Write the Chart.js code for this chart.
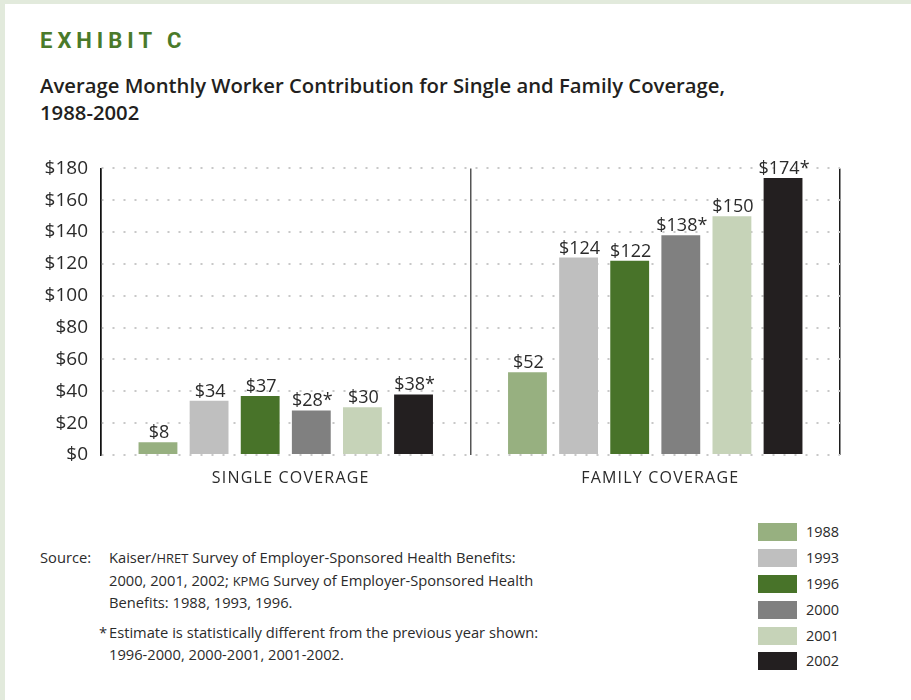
<!DOCTYPE html>
<html>
<head>
<meta charset="utf-8">
<title>Average Monthly Worker Contribution for Single and Family Coverage, 1988-2002</title>
<script src="https://cdn.jsdelivr.net/npm/chart.js@4.4.0/dist/chart.umd.min.js"></script>
<style>
  html, body { margin: 0; padding: 0; }
  body {
    width: 911px; height: 700px; position: relative; overflow: hidden;
    background: #e2eadc; color: #2b2b2b;
    font-family: "Open Sans", Roboto, sans-serif;
  }
  #panel { position: absolute; left: 5px; top: 4px; right: 0; bottom: 0; background: #fff; }
  #exhibit {
    position: absolute; left: 40px; top: 28px; margin: 0;
    font-family: Roboto, sans-serif;
    font-size: 22px; font-weight: 700; letter-spacing: 5px; line-height: 26px;
    color: #4a7a2a;
  }
  #title {
    position: absolute; left: 40px; top: 72px; margin: 0;
    font-size: 20.3px; font-weight: 600; line-height: 27px; color: #231f20;
    white-space: nowrap;
  }
  #chartBox { position: absolute; left: 1px; top: 144px; width: 870px; height: 351px; }
  #source, #note {
    position: absolute; font-size: 14.7px; line-height: 21.5px; color: #2b2b2b;
  }
  #source { left: 40px; top: 547px; }
  #source .lbl { position: absolute; left: 0; top: 0; }
  #source .txt { position: absolute; left: 69px; top: 0; white-space: nowrap; }
  #note { left: 99px; top: 622px; white-space: nowrap; }
  #note .star { position: absolute; left: 0; top: 0; }
  #note .txt { position: absolute; left: 10px; top: 0; }
  .sc { font-size: 0.88em; }
  #legend { position: absolute; left: 758px; top: 522px; }
  .item { position: relative; height: 25.9px; }
  .sw { position: absolute; left: 0; top: 1px; width: 39px; height: 18px; }
  .yr { position: absolute; left: 48px; top: 0; font-size: 14.5px; line-height: 20px; color: #2b2b2b; }
</style>
</head>
<body>
<div id="panel"></div>
<h1 id="exhibit">EXHIBIT C</h1>
<h2 id="title">Average Monthly Worker Contribution for Single and Family Coverage,<br>1988-2002</h2>
<div id="chartBox"><canvas id="chart" width="870" height="351"></canvas></div>
<div id="source">
  <span class="lbl">Source:</span>
  <span class="txt">Kaiser/<span class="sc">HRET</span> Survey of Employer-Sponsored Health Benefits:<br>2000, 2001, 2002; <span class="sc">KPMG</span> Survey of Employer-Sponsored Health<br>Benefits: 1988, 1993, 1996.</span>
</div>
<div id="note">
  <span class="star">*</span>
  <span class="txt">Estimate is statistically different from the previous year shown:<br>1996-2000, 2000-2001, 2001-2002.</span>
</div>
<div id="legend"></div>
<script>
// Coverage groups along the x axis
const categories = ['SINGLE COVERAGE', 'FAMILY COVERAGE'];
// Survey years, one bar series each
const years = ['1988', '1993', '1996', '2000', '2001', '2002'];
// Average monthly worker contribution in dollars, by year
const singleCoverage = [8, 34, 37, 28, 30, 38];
const familyCoverage = [52, 124, 122, 138, 150, 174];
// Values statistically different from the previous year shown (marked with *)
const singleStarred = [false, false, false, true, false, true];
const familyStarred = [false, false, false, true, false, true];
// Dollar tick marks on the value axis
const yTicks = [0, 20, 40, 60, 80, 100, 120, 140, 160, 180];
const yearColors = ['#97b080', '#bfbfbf', '#487329', '#808080', '#c6d3b8', '#231f20'];

const CHART_FONT = '"Open Sans", Roboto, sans-serif';
const TEXT_COLOR = '#2b2b2b';

// Legend block at the bottom right
const legendEl = document.getElementById('legend');
years.forEach((yr, i) => {
  const row = document.createElement('div');
  row.className = 'item';
  row.innerHTML = '<span class="sw" style="background:' + yearColors[i] + '"></span><span class="yr">' + yr + '</span>';
  legendEl.appendChild(row);
});

// Dollar value written above every bar
const valueLabels = {
  id: 'valueLabels',
  afterDatasetsDraw(chart) {
    const ctx = chart.ctx;
    ctx.save();
    ctx.font = '18px ' + CHART_FONT;
    ctx.fillStyle = TEXT_COLOR;
    ctx.textAlign = 'center';
    ctx.textBaseline = 'alphabetic';
    chart.data.datasets.forEach((ds, di) => {
      chart.getDatasetMeta(di).data.forEach((bar, ci) => {
        const star = (ci === 0 ? singleStarred : familyStarred)[di];
        ctx.fillText('$' + ds.data[ci] + (star ? '*' : ''), bar.x + 1, bar.y - 4);
      });
    });
    ctx.restore();
  }
};

// Letter-spaced group names under the axis
const groupLabels = {
  id: 'groupLabels',
  afterDraw(chart) {
    const ctx = chart.ctx;
    const xs = chart.scales.x;
    ctx.save();
    ctx.font = '16px ' + CHART_FONT;
    ctx.fillStyle = TEXT_COLOR;
    ctx.textAlign = 'center';
    ctx.textBaseline = 'middle';
    if ('letterSpacing' in ctx) ctx.letterSpacing = '1.2px';
    categories.forEach((c, i) => {
      ctx.fillText(c, xs.getPixelForTick(i) + 5, chart.chartArea.bottom + 23);
    });
    ctx.restore();
  }
};

new Chart(document.getElementById('chart'), {
  type: 'bar',
  data: {
    labels: categories,
    datasets: years.map((yr, i) => ({
      label: yr,
      data: [singleCoverage[i], familyCoverage[i]],
      backgroundColor: yearColors[i],
      borderWidth: 0,
      categoryPercentage: 0.83,
      barPercentage: 0.76
    }))
  },
  options: {
    responsive: false,
    animation: false,
    devicePixelRatio: 1,
    layout: { padding: { left: 0, right: 31, top: 0, bottom: 0 } },
    plugins: { legend: { display: false }, tooltip: { enabled: false } },
    scales: {
      x: {
        type: 'category',
        afterFit: s => { s.height = 40; },
        ticks: { display: false },
        grid: {
          offset: true,
          drawTicks: false,
          lineWidth: 1.5,
          color: c => (c.index === 1 ? '#555555' : '#1e1e1e')
        },
        border: { display: false }
      },
      y: {
        min: 0,
        max: 180,
        afterFit: s => { s.width = 100; },
        afterBuildTicks: s => { s.ticks = yTicks.map(v => ({ value: v })); },
        ticks: {
          padding: 13,
          color: TEXT_COLOR,
          font: { family: CHART_FONT, size: 19 },
          callback: v => '$' + v
        },
        grid: { drawTicks: false, color: '#c8c8c8', lineWidth: 2 },
        border: { display: true, color: '#111111', width: 1.5, dash: [2, 9] }
      }
    }
  },
  plugins: [valueLabels, groupLabels]
});
</script>
</body>
</html>
